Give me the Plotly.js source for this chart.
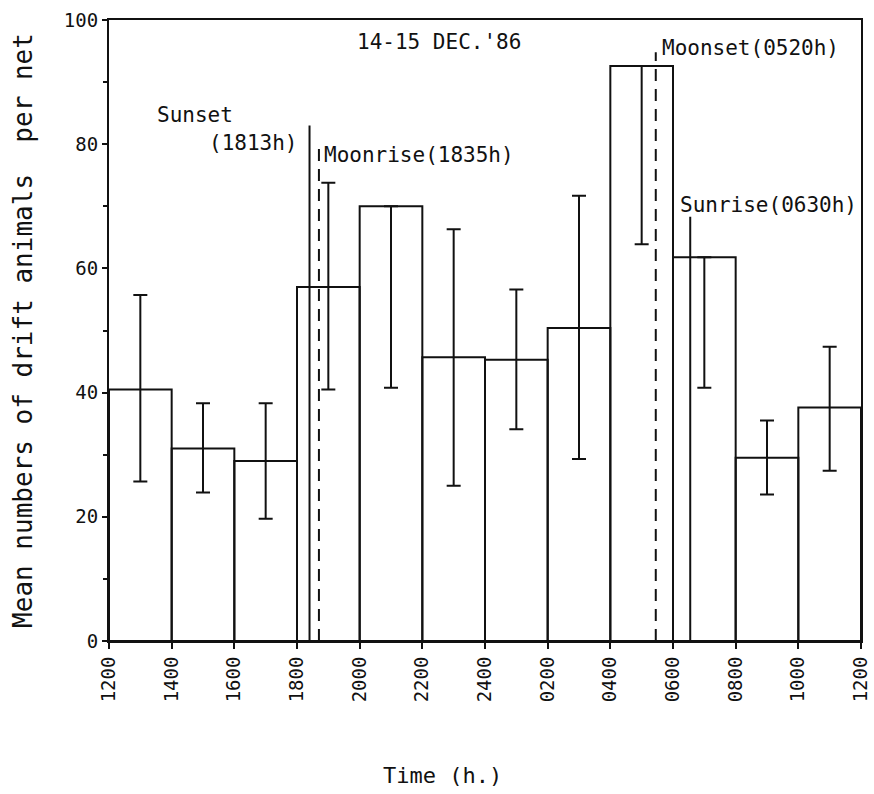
<!DOCTYPE html>
<html>
<head>
<meta charset="utf-8">
<script src="https://cdn.plot.ly/plotly-3.0.1.min.js"></script>
<style>html,body{margin:0;padding:0;background:#fff;}#chart{width:874px;height:794px;}</style>
</head>
<body>
<div id="chart"></div>
<script>
// Time bins (hours since midnight of 14 Dec; bin midpoints)
const binMid = [13, 15, 17, 19, 21, 23, 25, 27, 29, 31, 33, 35];
const meanCount = [40.5, 31, 29, 57, 70, 45.7, 45.3, 50.4, 92.6, 61.8, 29.5, 37.6];
const errUpper = [15.2, 7.3, 9.3, 16.8, 0, 20.6, 11.3, 21.3, 0, 0, 6, 9.8];
const errLower = [14.8, 7.1, 9.3, 16.5, 29.2, 20.7, 11.2, 21.1, 28.7, 21, 5.9, 10.2];

const tickHours = [12, 14, 16, 18, 20, 22, 24, 26, 28, 30, 32, 34, 36];
const tickLabels = ["1200", "1400", "1600", "1800", "2000", "2200", "2400", "0200", "0400", "0600", "0800", "1000", "1200"];

// Sun / moon events: position (hours), top of line, dashed?
const eventNames = ["Sunset", "Moonrise", "Moonset", "Sunrise"];
const eventHours = [18.4, 18.7, 29.45, 30.55];
const eventTops = [83, 79.4, 94.8, 68.3];
const eventDashed = [false, true, true, false];

const font = "DejaVu Sans Mono, monospace";

const shapes = eventHours.map((h, i) => ({
  type: "line", xref: "x", yref: "y",
  x0: h, x1: h, y0: 0, y1: eventTops[i],
  line: {color: "#111", width: 2, dash: eventDashed[i] ? "12px,8px" : "solid"}
}));

const annText = ["14-15 DEC.'86", "Sunset", "(1813h)", "Moonrise(1835h)", "Moonset(0520h)", "Sunrise(0630h)"];
const annX = [19.85, 13.47, 15.13, 18.8, 29.58, 30.15];
const annY = [96.5, 84.7, 80.2, 78.3, 95.5, 70.2];

const annotations = annText.map((t, i) => ({
  text: t, x: annX[i], y: annY[i], xref: "x", yref: "y",
  xanchor: "left", yanchor: "middle", showarrow: false,
  font: {family: font, size: 21, color: "#111"}
}));

// x-axis title, placed as in the original (left of plot centre)
annotations.push({
  text: "Time (h.)", xref: "paper", yref: "paper",
  x: 0.443, y: -0.216, xanchor: "center", yanchor: "middle", showarrow: false,
  font: {family: font, size: 22, color: "#111"}
});

const trace = {
  type: "bar",
  x: binMid,
  y: meanCount,
  width: 2,
  marker: {color: "rgba(255,255,255,0)", line: {color: "#111", width: 2}},
  error_y: {
    type: "data", symmetric: false,
    array: errUpper, arrayminus: errLower,
    color: "#111", thickness: 2, width: 7
  },
  hoverinfo: "skip"
};

const layout = {
  width: 874, height: 794,
  margin: {l: 109, r: 13, t: 20, b: 153},
  paper_bgcolor: "#fff", plot_bgcolor: "#fff",
  showlegend: false,
  font: {family: font, color: "#111"},
  xaxis: {
    range: [12, 36],
    tickvals: tickHours, ticktext: tickLabels,
    tickangle: -90,
    ticks: "outside", ticklen: 6, tickwidth: 2, tickcolor: "#111",
    showline: true, linecolor: "#111", linewidth: 2, mirror: true,
    showgrid: false, zeroline: false,
    tickfont: {family: font, size: 19, color: "#111"}
  },
  yaxis: {
    range: [0, 100],
    tickvals: [0, 20, 40, 60, 80, 100],
    ticks: "outside", ticklen: 5, tickwidth: 2, tickcolor: "#111",
    minor: {dtick: 10, ticks: "outside", ticklen: 4, tickwidth: 2, tickcolor: "#111"},
    showline: true, linecolor: "#111", linewidth: 2, mirror: true,
    showgrid: false, zeroline: false,
    tickfont: {family: font, size: 19, color: "#111"},
    title: {text: "Mean numbers of drift animals  per net", font: {family: font, size: 26, color: "#111"}, standoff: 24}
  },
  shapes: shapes,
  annotations: annotations
};

Plotly.newPlot("chart", [trace], layout, {displayModeBar: false, staticPlot: true});
</script>
</body>
</html>
